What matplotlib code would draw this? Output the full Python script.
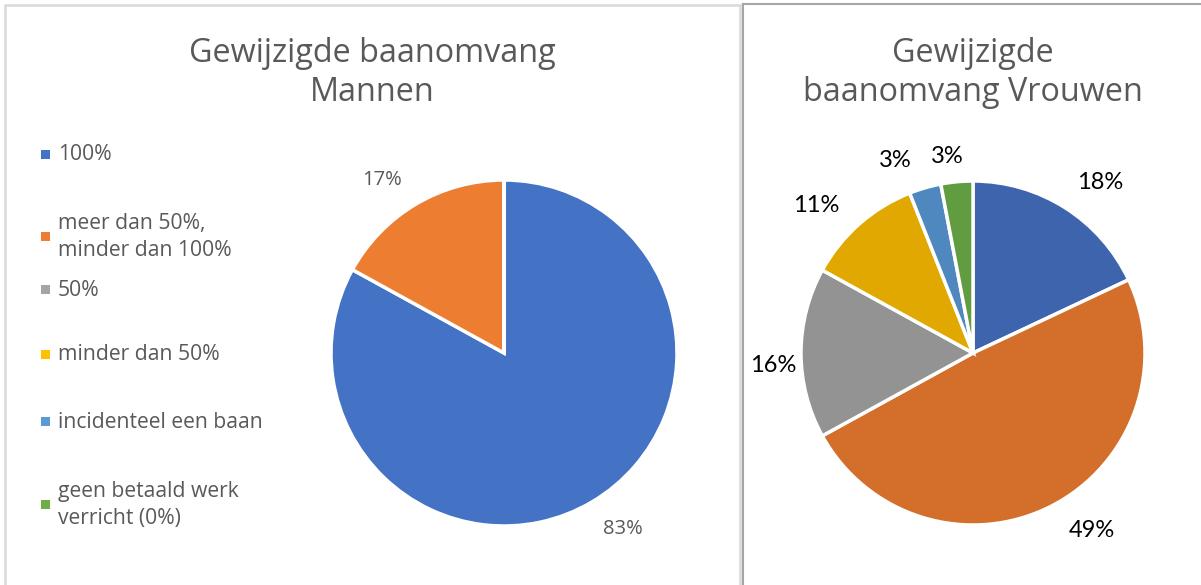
import matplotlib
matplotlib.use("Agg")
import matplotlib.pyplot as plt
from matplotlib.patches import Rectangle
from matplotlib.lines import Line2D

# categories (legend)
categorieen = ["100%", "meer dan 50%,\nminder dan 100%", "50%", "minder dan 50%",
               "incidenteel een baan", "geen betaald werk\nverricht (0%)"]
mannen = [83, 17, 0, 0, 0, 0]
vrouwen = [18, 49, 16, 11, 3, 3]

kleuren_m = ["#4472C4", "#ED7D31", "#A5A5A5", "#FFC000", "#5B9BD5", "#70AD47"]
kleuren_v = ["#3E64AD", "#D36F2A", "#939393", "#E0A800", "#4F88BF", "#629C41"]

W, H = 1201, 585
fig = plt.figure(figsize=(W / 100, H / 100), dpi=100)
fig.patch.set_facecolor("white")

grijs = "#595959"
font = "Open Sans"


def ax_px(cx, cy, r):
    # axes square around centre (pixels, y from top)
    return fig.add_axes([(cx - r) / W, (H - cy - r) / H, 2 * r / W, 2 * r / H])


# panel borders
fig.add_artist(Rectangle((5 / W, -0.01), 735 / W, (H - 5) / H + 0.01, transform=fig.transFigure,
                         fill=False, edgecolor="#D9D9D9", linewidth=1.8))
fig.add_artist(Line2D([742.5 / W, 742.5 / W], [0, (H - 4) / H], transform=fig.transFigure,
                      color="#A6A6A6", linewidth=1.5))
fig.add_artist(Line2D([742.5 / W, 1], [(H - 4) / H, (H - 4) / H], transform=fig.transFigure,
                      color="#A6A6A6", linewidth=1.5))


def teken_taart(ax, waarden, kleuren, kleur_tekst, lettertype, grootte):
    labels = [f"{v}%" if v > 0 else "" for v in waarden]
    wedges, teksten = ax.pie(waarden, colors=kleuren, startangle=90, counterclock=False,
                             labels=labels, labeldistance=1.22,
                             wedgeprops=dict(edgecolor="white", linewidth=2.5))
    for t in teksten:
        t.set_ha("center")
        t.set_va("center")
        t.set_color(kleur_tekst)
        t.set_fontfamily(lettertype)
        t.set_fontsize(grootte)
    ax.set_xlim(-1, 1)
    ax.set_ylim(-1, 1)
    ax.set_aspect("equal")
    ax.axis("off")
    return wedges, teksten


ax1 = ax_px(504, 353, 173)
w1, t1 = teken_taart(ax1, mannen, kleuren_m, grijs, font, 14.5)
t1[0].set_position((0.69, -1.02))
t1[1].set_position((-0.705, 1.0))

ax2 = ax_px(973, 353, 172)
w2, t2 = teken_taart(ax2, vrouwen, kleuren_v, "black", "Lato", 17)
label_pos = [(0.74, 0.99), (0.69, -1.03), (-1.16, -0.07), (-0.91, 0.86), (-0.45, 1.12), (-0.15, 1.14)]
for t, p in zip(t2, label_pos):
    t.set_position(p)

# titles
fig.text(372 / W, 1 - 73 / H, "Gewijzigde baanomvang\nMannen", ha="center", va="center",
         fontsize=23.3, color=grijs, fontfamily=font, linespacing=1.25)
fig.text(973 / W, 1 - 73 / H, "Gewijzigde\nbaanomvang Vrouwen", ha="center", va="center",
         fontsize=23.3, color=grijs, fontfamily=font, linespacing=1.25)

# legend (manual, Excel-style)
leg_y = [155, 237, 290, 355, 422, 505]
for naam, kleur, y in zip(categorieen, kleuren_m, leg_y):
    fig.add_artist(Rectangle((41 / W, 1 - (y + 4) / H), 9 / W, 9 / H, transform=fig.transFigure,
                             facecolor=kleur, edgecolor="none"))
    fig.text(58 / W, 1 - y / H, naam, ha="left", va="center", fontsize=15.2, color=grijs,
             fontfamily=font, linespacing=1.35)

fig.savefig("out.png", dpi=100)
